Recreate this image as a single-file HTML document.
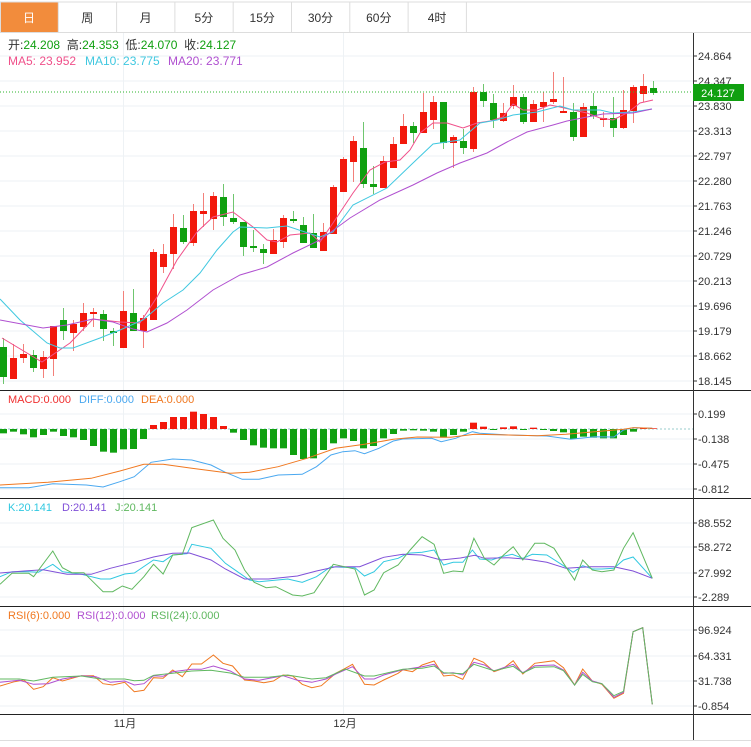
<!DOCTYPE html>
<html><head><meta charset="utf-8"><style>
body{margin:0;background:#fff;width:751px;height:747px;overflow:hidden;font-family:"Liberation Sans","Noto Sans CJK SC",sans-serif}
svg{position:absolute;left:0;top:0}
</style></head><body>
<svg id="s" width="751" height="747" xmlns="http://www.w3.org/2000/svg" font-family="Liberation Sans, Noto Sans CJK SC, sans-serif"></svg>
<script>
var s=document.getElementById('s'),h='';
function L(x1,y1,x2,y2,c,w,d){h+='<line x1="'+x1+'" y1="'+y1+'" x2="'+x2+'" y2="'+y2+'" stroke="'+c+'" stroke-width="'+(w||1)+'"'+(d?' stroke-dasharray="'+d+'"':'')+'/>';}
function R(x,y,w,hh,c){h+='<rect x="'+x+'" y="'+y+'" width="'+w+'" height="'+hh+'" fill="'+c+'"/>';}
function T(x,y,t,c,sz,a){h+='<text x="'+x+'" y="'+y+'" fill="'+c+'" font-size="'+(sz||12)+'"'+(a?' text-anchor="'+a+'"':'')+'>'+t+'</text>';}
function P(pts,c,sx,sy,ox,oy){var d=pts.map(function(p,i){return (i?'L':'M')+(p[0]/sx+ox).toFixed(1)+' '+(p[1]/sy+oy).toFixed(1)}).join('');h+='<path d="'+d+'" fill="none" stroke="'+c+'" stroke-width="1"/>';}
var tabs=['日','周','月','5分','15分','30分','60分','4时'];
R(0,0,751,747,'#fff');
for(var i=0;i<8;i++){var x=i*58.3;if(i==0)R(1,2,57,30,'#f28c3c');L(x+58.3,2,x+58.3,32,'#ddd');T(x+29,22,tabs[i],i==0?'#fff':'#333',12,'middle');}
L(0,2,751,2,'#ddd');L(0,32.5,751,32.5,'#ddd');L(0.5,2,0.5,32,'#ddd');
var gy=[56,81,106,131,156,181,206,231,256,281,306,331,356,381];
gy.forEach(function(y){L(0,y,693,y,'#eef2f5');});
[414,439,464,489].forEach(function(y){L(0,y,693,y,'#eef2f5');});
[523,547,573,597].forEach(function(y){L(0,y,693,y,'#eef2f5');});
[630,656,681,706].forEach(function(y){L(0,y,693,y,'#eef2f5');});
L(123.5,33,123.5,714,'#eef2f5');L(343.5,33,343.5,714,'#eef2f5');
[390.5,498.5,606.5,714.5].forEach(function(y){L(0,y,751,y,'#222');});
L(693.5,33,693.5,740,'#333');L(0,740.5,751,740.5,'#ddd');
var lab=['24.864','24.347','23.830','23.313','22.797','22.280','21.763','21.246','20.729','20.213','19.696','19.179','18.662','18.145'];
gy.forEach(function(y,i){L(693,y,697,y,'#333');T(698,y+4,lab[i],'#333',11);});
[[414,'0.199'],[439,'-0.138'],[464,'-0.475'],[489,'-0.812'],[523,'88.552'],[547,'58.272'],[573,'27.992'],[597,'-2.289'],[630,'96.924'],[656,'64.331'],[681,'31.738'],[706,'-0.854']].forEach(function(a){L(693,a[0],697,a[0],'#333');T(698,a[0]+4,a[1],'#333',11);});
T(125,727,'11月','#333',11,'middle');T(345,727,'12月','#333',11,'middle');
var C=[[347,377,338,384,0],[358,379,344,379,1],[354,358,344,363,1],[355,368,350,372,0],[357,369,351,378,1],[326,359,326,376,1],[320,331,308,340,0],[324,333,320,351,1],[313,327,303,331,1],[312,314,308,327,1],[314,329,310,341,0],[331,333,328,346,0],[311,348,291,348,1],[313,331,289,331,0],[318,331,315,348,1],[252,320,249,320,1],[254,267,244,273,1],[227,254,214,269,1],[228,242,215,244,0],[211,243,204,246,1],[211,214,193,227,1],[196,219,192,230,1],[197,217,184,226,0],[218,222,194,224,0],[222,247,222,256,0],[246,248,230,252,0],[249,253,244,264,0],[240,254,229,254,1],[218,242,215,248,1],[219,221,211,223,0],[225,243,217,243,0],[233,248,214,248,0],[232,251,223,251,1],[187,234,185,234,1],[159,192,157,192,1],[141,162,136,182,1],[148,184,122,188,0],[184,187,166,194,0],[161,188,156,188,1],[144,168,137,168,1],[126,144,114,144,1],[126,133,122,143,0],[112,133,93,133,1],[102,120,96,129,1],[102,143,102,149,0],[137,143,135,168,1],[141,148,129,154,0],[92,149,87,152,1],[92,101,84,107,0],[103,120,94,128,0],[113,121,103,122,1],[97,106,85,109,1],[97,122,94,124,0],[104,122,100,122,1],[102,107,92,122,1],[99,102,72,104,1],[111,112,77,112,1],[112,137,103,141,0],[107,137,103,137,1],[106,116,93,119,0],[118,120,112,127,1],[118,128,97,137,0],[110,128,90,129,1],[87,111,85,123,1],[86,94,74,102,1],[88,93,81,95,0]];
C.forEach(function(c,i){var x=3.5+10*i,col=c[4]?'#f2190c':'#10a010',wc=c[4]?'#f3807a':'#6fc66f';L(x,c[2],x,c[3],wc);R(x-3.5,c[0],7,Math.max(c[1]-c[0],2),col);});
P([[2,338],[42,362],[70,343],[93,319],[120,322],[140,323],[157,297],[177,260],[197,232],[213,217],[233,212],[253,227],[267,240],[277,242],[290,235],[310,233],[320,242],[333,223],[353,193],[370,170],[385,162],[400,160],[410,150],[420,133],[433,123],[447,123],[463,128],[477,123],[490,121],[503,117],[513,104],[523,110],[537,110],[550,105],[560,107],[573,110],[587,113],[600,118],[613,120],[627,113],[640,103],[653,100]],'#f0508a',1,1,0,0);
P([[0,299],[20,320],[47,343],[60,348],[73,348],[100,338],[120,330],[143,320],[163,303],[183,290],[200,273],[217,250],[233,232],[240,227],[267,228],[287,226],[320,237],[333,232],[353,205],[387,188],[413,163],[433,144],[460,140],[480,123],[497,120],[513,115],[537,112],[560,106],[573,110],[600,110],[613,113],[633,112],[652,109]],'#40c8e0',1,1,0,0);
P([[0,320],[43,328],[67,325],[93,319],[113,322],[133,329],[147,332],[167,323],[187,310],[213,290],[240,275],[267,267],[293,253],[320,240],[350,218],[380,200],[413,185],[437,173],[460,163],[487,153],[507,142],[527,132],[553,125],[567,121],[587,117],[603,114],[633,113],[652,109]],'#b050d0',1,1,0,0);
L(0,92,693,92,'#2db52d',1,'1,2');R(693,84,51,17,'#10a010');T(718,97,'24.127','#fff',11,'middle');
T(8,49,'开:<tspan fill="#10a010">24.208</tspan>  高:<tspan fill="#10a010">24.353</tspan>  低:<tspan fill="#10a010">24.070</tspan>  收:<tspan fill="#10a010">24.127</tspan>','#333',12);
h=h.replace(/  /g,'&#160; ');
T(8,65,'MA5: 23.952','#f0508a',12);T(85,65,'MA10: 23.775','#40c8e0',12);T(168,65,'MA20: 23.771','#b050d0',12);
var M=[145,140,148,157,150,140,153,157,165,183,200,203,193,192,162,120,111,96,96,80,87,96,123,143,165,181,188,190,190,210,222,220,195,175,160,168,190,183,160,147,137,136,137,140,158,150,140,113,125,135,127,124,133,128,132,138,142,162,155,158,160,160,150,140,130,130];
L(0,429,693,429,'#9cc',1,'2,2');
M.forEach(function(v,i){var x=3.5+10*i-3.5,y=v/3+385,z=429;if(v<132)R(x,y,7,z-y,'#f2190c');else R(x,z,7,Math.max(y-z,1),'#10a010');});
P([[0,308],[60,308],[110,296],[180,300],[215,306],[250,290],[280,275],[315,232],[360,222],[400,225],[440,240],[470,262],[505,283],[540,283],[580,270],[630,268],[660,245],[690,210],[715,200],[740,197],[760,206],[790,190],[820,168],[840,162],[900,160],[920,170],[950,160],[985,140],[1000,145],[1060,150],[1140,153],[1190,163],[1240,155],[1280,156],[1300,135],[1320,128],[1360,130]],'#4aa8f0',2.085,3,0,385);
P([[0,300],[100,292],[190,280],[250,258],[300,238],[340,238],[400,250],[480,265],[520,262],[580,245],[640,220],[700,190],[760,178],[820,163],[870,156],[940,157],[990,148],[1060,150],[1120,152],[1180,148],[1240,140],[1300,133],[1320,128],[1360,130]],'#f07820',2.085,3,0,385);
T(8,403,'MACD:0.000','#f03030',11);T(79,403,'DIFF:0.000','#4aa8f0',11);T(141,403,'DEA:0.000','#f07820',11);
P([[0,245],[25,230],[60,230],[80,232],[110,208],[130,230],[170,238],[210,252],[230,252],[260,237],[280,234],[320,195],[340,200],[360,180],[390,176],[400,148],[440,160],[470,205],[500,235],[520,255],[540,260],[600,252],[630,262],[660,245],[690,215],[740,218],[760,243],[780,230],[800,200],[830,190],[850,175],[880,172],[905,165],[925,210],[945,202],[965,202],[985,165],[1000,192],[1025,195],[1045,185],[1068,178],[1090,190],[1110,178],[1140,180],[1175,212],[1195,232],[1215,212],[1235,222],[1255,222],[1280,220],[1300,195],[1320,186],[1360,250]],'#30c8e0',2.085,3,0,495);
P([[0,234],[50,228],[90,224],[140,238],[190,238],[230,220],[280,202],[320,186],[360,175],[395,174],[440,195],[470,222],[510,252],[560,252],[620,243],[660,228],[700,215],[750,215],[800,187],[840,178],[880,180],[920,195],[960,189],[990,181],[1010,190],[1060,188],[1100,193],[1140,202],[1180,220],[1230,215],[1280,215],[1320,228],[1360,250]],'#8050d8',2.085,3,0,495);
P([[0,268],[25,235],[60,235],[70,245],[110,168],[130,218],[150,233],[175,233],[215,290],[235,290],[255,273],[275,283],[300,245],[320,208],[340,237],[360,180],[380,178],[400,98],[445,75],[465,130],[490,165],[510,225],[530,262],[555,278],[575,275],[610,300],[630,303],[655,293],[695,208],[740,222],[760,300],[780,285],[800,233],[830,210],[855,165],[880,125],[905,148],[925,235],[945,228],[965,230],[988,130],[1010,190],[1030,210],[1050,180],[1070,155],[1090,195],[1115,145],[1135,145],[1155,160],[1175,205],[1198,255],[1215,195],[1235,225],[1255,230],[1280,225],[1300,160],[1320,113],[1360,250]],'#60b860',2.085,3,0,495);
T(8,511,'K:20.141','#30c8e0',11);T(62,511,'D:20.141','#8050d8',11);T(115,511,'J:20.141','#60b860',11);
P([[0,243],[30,230],[50,225],[70,253],[90,245],[110,218],[130,228],[170,212],[195,212],[215,236],[235,240],[260,232],[280,260],[300,256],[320,218],[340,220],[360,195],[380,215],[400,177],[420,177],[445,150],[465,175],[485,183],[510,225],[530,228],[550,233],[570,228],[590,210],[610,213],[630,238],[650,248],[670,242],[700,205],[720,190],[735,178],[760,238],[780,240],[800,225],[830,205],[840,194],[860,200],[880,180],[905,168],[925,213],[945,210],[965,223],[988,160],[1008,172],[1030,200],[1050,190],[1070,167],[1090,207],[1115,175],[1155,167],[1175,188],[1198,240],[1215,192],[1235,228],[1255,238],[1280,280],[1300,265],[1320,80],[1340,68],[1360,298]],'#f07820',2.085,3,0,605);
P([[0,232],[40,226],[70,238],[100,236],[130,222],[170,212],[200,215],[230,232],[260,228],[280,240],[300,236],[320,212],[340,214],[360,200],[400,193],[420,193],[445,183],[480,198],[510,222],[540,226],[590,212],[620,226],[650,232],[680,222],[700,207],[735,185],[760,222],[780,222],[800,210],[840,194],[880,185],[905,178],[925,205],[945,203],[965,210],[988,172],[1010,180],[1030,198],[1070,178],[1090,203],[1115,182],[1155,180],[1175,195],[1198,240],[1215,202],[1235,228],[1255,236],[1280,277],[1300,262],[1320,80],[1340,68],[1360,298]],'#b050d0',2.085,3,0,605);
P([[0,222],[40,222],[70,228],[110,217],[170,213],[210,222],[260,222],[280,227],[300,226],[320,211],[360,205],[400,198],[440,196],[480,204],[510,217],[560,217],[600,210],[650,222],[680,218],[720,192],[760,213],[780,213],[840,193],[880,190],[905,183],[925,203],[965,206],[988,178],[1030,197],[1070,184],[1090,204],[1115,187],[1155,185],[1175,197],[1198,240],[1215,208],[1235,230],[1255,236],[1280,272],[1300,259],[1320,80],[1340,68],[1360,298]],'#60b860',2.085,3,0,605);
T(8,619,'RSI(6):0.000','#f07820',11);T(77,619,'RSI(12):0.000','#b050d0',11);T(151,619,'RSI(24):0.000','#60b860',11);
s.innerHTML=h;
</script>
</body></html>
